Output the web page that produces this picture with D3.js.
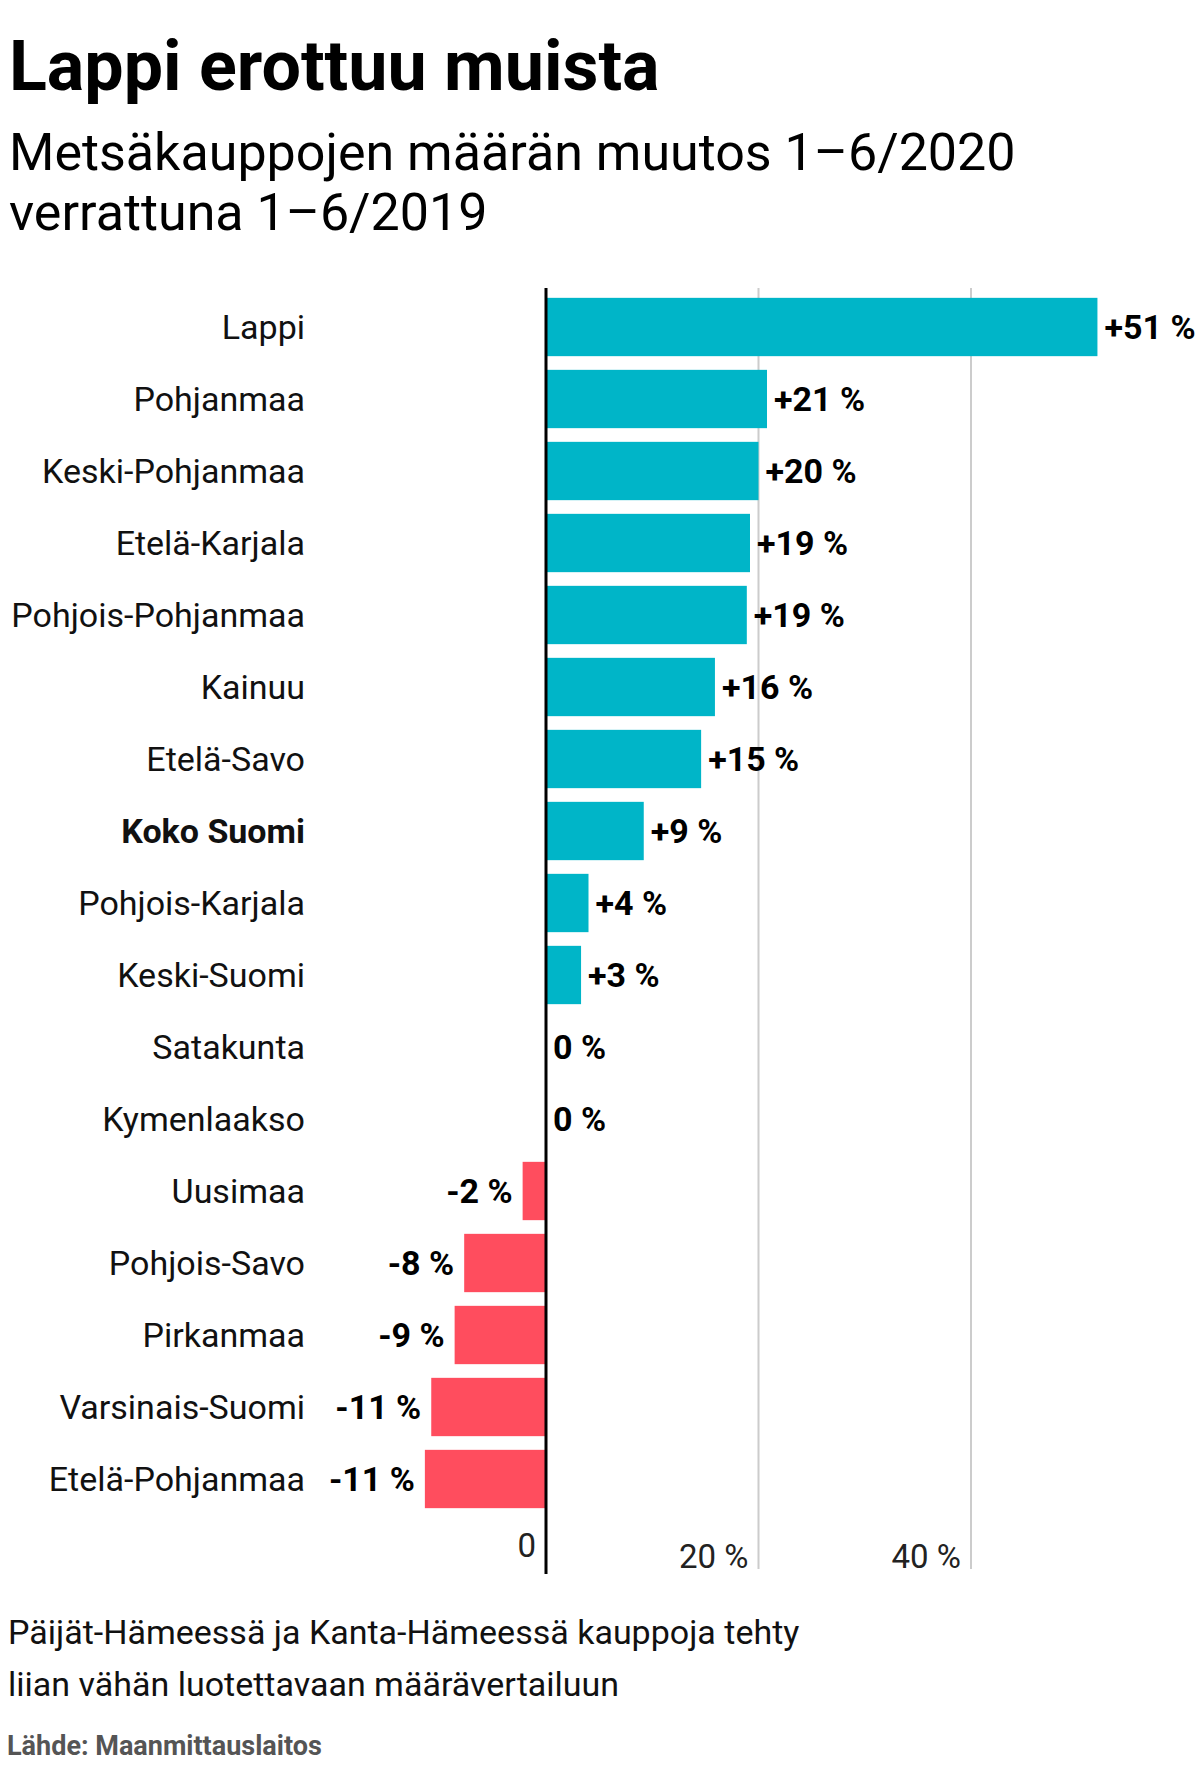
<!DOCTYPE html>
<html><head><meta charset="utf-8">
<script src="https://cdn.jsdelivr.net/npm/d3@7"></script>
<style>body{margin:0;background:#fff;font-family:Roboto,"Noto Sans",sans-serif;}</style>
</head><body><svg></svg>
<script>
var regions = ["Lappi","Pohjanmaa","Keski-Pohjanmaa","Etelä-Karjala","Pohjois-Pohjanmaa","Kainuu","Etelä-Savo","Koko Suomi","Pohjois-Karjala","Keski-Suomi","Satakunta","Kymenlaakso","Uusimaa","Pohjois-Savo","Pirkanmaa","Varsinais-Suomi","Etelä-Pohjanmaa"];
var changes = [51.9, 20.8, 20, 19.2, 18.9, 15.9, 14.6, 9.2, 4, 3.3, 0, 0, -2.2, -7.7, -8.6, -10.8, -11.4];
var valueLabels = ["+51 %","+21 %","+20 %","+19 %","+19 %","+16 %","+15 %","+9 %","+4 %","+3 %","0 %","0 %","-2 %","-8 %","-9 %","-11 %","-11 %"];
var ticks = [0, 20, 40];

var W = 1199, H = 1770;
var svg = d3.select("svg").attr("width", W).attr("height", H);

svg.append("text").attr("x", 9).attr("y", 90)
    .style("font-size", "70px").style("font-weight", "700").text("Lappi erottuu muista");
svg.append("text").attr("x", 9).attr("y", 170)
    .style("font-size", "52px").text("Metsäkauppojen määrän muutos 1–6/2020");
svg.append("text").attr("x", 9).attr("y", 230)
    .style("font-size", "52px").text("verrattuna 1–6/2019");

var x = d3.scaleLinear().domain([0, 40]).range([546, 971]);
var y = d3.scaleBand().domain(regions).range([291, 291 + 17 * 72])
    .paddingInner(0.19).paddingOuter(0.095);

// gridlines
svg.selectAll(".grid").data(ticks.slice(1)).enter().append("line")
    .attr("x1", d => x(d)).attr("x2", d => x(d))
    .attr("y1", 288).attr("y2", 1569)
    .attr("stroke", "#ccc").attr("stroke-width", 2);

svg.selectAll(".bar").data(regions).enter().append("rect")
    .attr("x", (d, i) => x(Math.min(0, changes[i])))
    .attr("y", d => y(d))
    .attr("width", (d, i) => Math.abs(x(changes[i]) - x(0)))
    .attr("height", y.bandwidth())
    .attr("fill", (d, i) => changes[i] < 0 ? "#ff4d5e" : "#00b5c8");

svg.selectAll(".cat").data(regions).enter().append("text")
    .attr("x", 305).attr("y", d => y(d) + y.bandwidth() / 2)
    .attr("dy", "0.35em").attr("text-anchor", "end")
    .style("font-size", "34px").style("fill", "#111")
    .style("font-weight", d => d === "Koko Suomi" ? "700" : "400")
    .text(d => d);

svg.selectAll(".val").data(regions).enter().append("text")
    .attr("x", (d, i) => changes[i] < 0 ? x(changes[i]) - 10 : x(changes[i]) + 7)
    .attr("y", d => y(d) + y.bandwidth() / 2)
    .attr("dy", "0.35em")
    .attr("text-anchor", (d, i) => changes[i] < 0 ? "end" : "start")
    .style("font-size", "34px").style("font-weight", "700")
    .text((d, i) => valueLabels[i]);

// zero axis
svg.append("line").attr("x1", x(0)).attr("x2", x(0)).attr("y1", 288).attr("y2", 1574)
    .attr("stroke", "#000").attr("stroke-width", 3);

svg.selectAll(".tick").data(ticks).enter().append("text")
    .attr("x", d => x(d) - 10)
    .attr("y", d => d === 0 ? 1557 : 1568)
    .attr("text-anchor", "end")
    .style("font-size", "33px").style("fill", "#222")
    .text(d => d === 0 ? "0" : d + " %");

svg.append("text").attr("x", 8).attr("y", 1644).style("font-size", "34px").style("fill", "#111")
    .text("Päijät-Hämeessä ja Kanta-Hämeessä kauppoja tehty");
svg.append("text").attr("x", 8).attr("y", 1696).style("font-size", "34px").style("fill", "#111")
    .text("liian vähän luotettavaan määrävertailuun");
svg.append("text").attr("x", 7).attr("y", 1755).style("font-size", "27px").style("font-weight", "700")
    .style("fill", "#555").text("Lähde: Maanmittauslaitos");
</script></body></html>
